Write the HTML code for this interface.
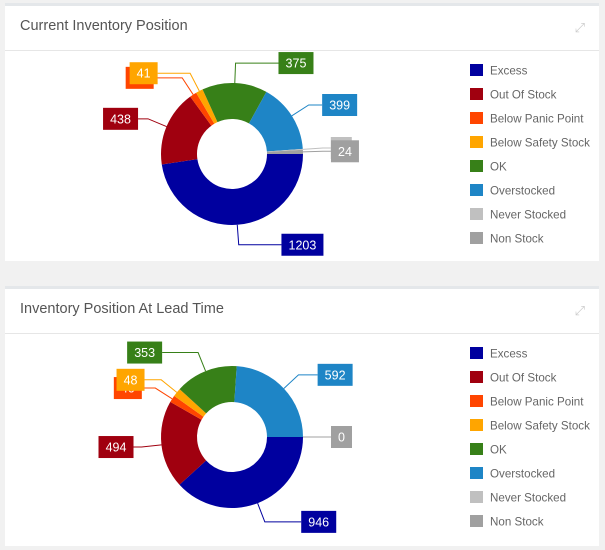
<!DOCTYPE html>
<html><head><meta charset="utf-8"><style>
body{margin:0;width:605px;height:550px;background:#f1f1f1;font-family:"Liberation Sans",sans-serif;position:relative;overflow:hidden}
.card{position:absolute;left:5px;width:594px;background:#fff;border-top:3px solid #e4e7ea}
.title{position:absolute;left:15px;top:12px;font-size:14.5px;color:#555}
.div{position:absolute;left:0;right:0;top:44px;height:1px;background:#e6e6e6}
.exp{position:absolute;right:14px;top:14px;color:#ccc;font-size:13px}
svg{position:absolute;left:0;top:0}
</style></head><body>
<div class="card" style="top:3px;height:255px">
  <div class="title">Current Inventory Position</div>
  <div class="exp">⤢</div>
  <div class="div"></div>
</div>
<div class="card" style="top:286px;height:257px">
  <div class="title">Inventory Position At Lead Time</div>
  <div class="exp">⤢</div>
  <div class="div"></div>
</div>
<svg id="s" width="605" height="550"></svg>
<script>
const categories=["Excess","Out Of Stock","Below Panic Point","Below Safety Stock","OK","Overstocked","Never Stocked","Non Stock"];
const colors=["#00009f","#a0000f","#ff4500","#ffa500","#378018","#1e85c6","#c0c0c0","#a0a0a0"];
const currentValues=[1203,438,40,41,375,399,5,24];
const leadTimeValues=[946,494,40,48,353,592,0,0];
const NS="http://www.w3.org/2000/svg";
const svg=document.getElementById('s');
function mk(t,a,p){const e=document.createElementNS(NS,t);for(const k in a)e.setAttribute(k,a[k]);(p||svg).appendChild(e);return e;}
function donut(vals,cx,cy,legendY,prefix){
  const R=71,r=35;const tot=vals.reduce((a,b)=>a+b,0);let a0=0;
  vals.forEach((v,i)=>{
    const a1=a0+v/tot*2*Math.PI;
    if(v>0){
      const big=(a1-a0)>Math.PI?1:0;
      const P=(rr,a)=>[cx+rr*Math.cos(a),cy+rr*Math.sin(a)];
      const [x1,y1]=P(R,a0),[x2,y2]=P(R,a1),[x3,y3]=P(r,a1),[x4,y4]=P(r,a0);
      const p=mk('path',{d:`M${x1},${y1}A${R},${R} 0 ${big} 1 ${x2},${y2}L${x3},${y3}A${r},${r} 0 ${big} 0 ${x4},${y4}Z`,fill:colors[i]});
      
      
    }
    const m=(a0+a1)/2,c=Math.cos(m),s=Math.sin(m);
    if(!(v===0&&i!==7)){
      const ex=cx+R*c,ey=cy+R*s,px=cx+(R+20)*c,py=cy+(R+20)*s;
      const side=c>=-0.01?1:-1;
      const gap=8+35*Math.pow(Math.abs(s),3);
      const txt=String(v);const w=txt.length*7+14;
      const bx=side>0?px+gap:px-gap-w;
      mk('polyline',{points:`${ex},${ey} ${px},${py} ${side>0?bx:bx+w},${py}`,fill:'none',stroke:colors[i],'stroke-width':1});
      const b=mk('rect',{x:bx,y:py-11,width:w,height:22,fill:colors[i]});
      
      
      const t=mk('text',{x:bx+w/2,y:py+4.5,'text-anchor':'middle','font-size':12.5,fill:'#fff'});
      t.textContent=txt;
      
      
    }
    a0=a1;
  });
  categories.forEach((n,i)=>{
    const y=legendY+i*24;
    const sq=mk('rect',{x:470,y:y-6,width:13,height:12,fill:colors[i]});
    
    
    const t=mk('text',{x:490,y:y+4.5,'font-size':11.6,fill:'#666'});
    t.textContent=n;
    
    
  });
}
donut(currentValues,232,154,70,'current');
donut(leadTimeValues,232,437,353,'leadtime');
</script>
</body></html>
